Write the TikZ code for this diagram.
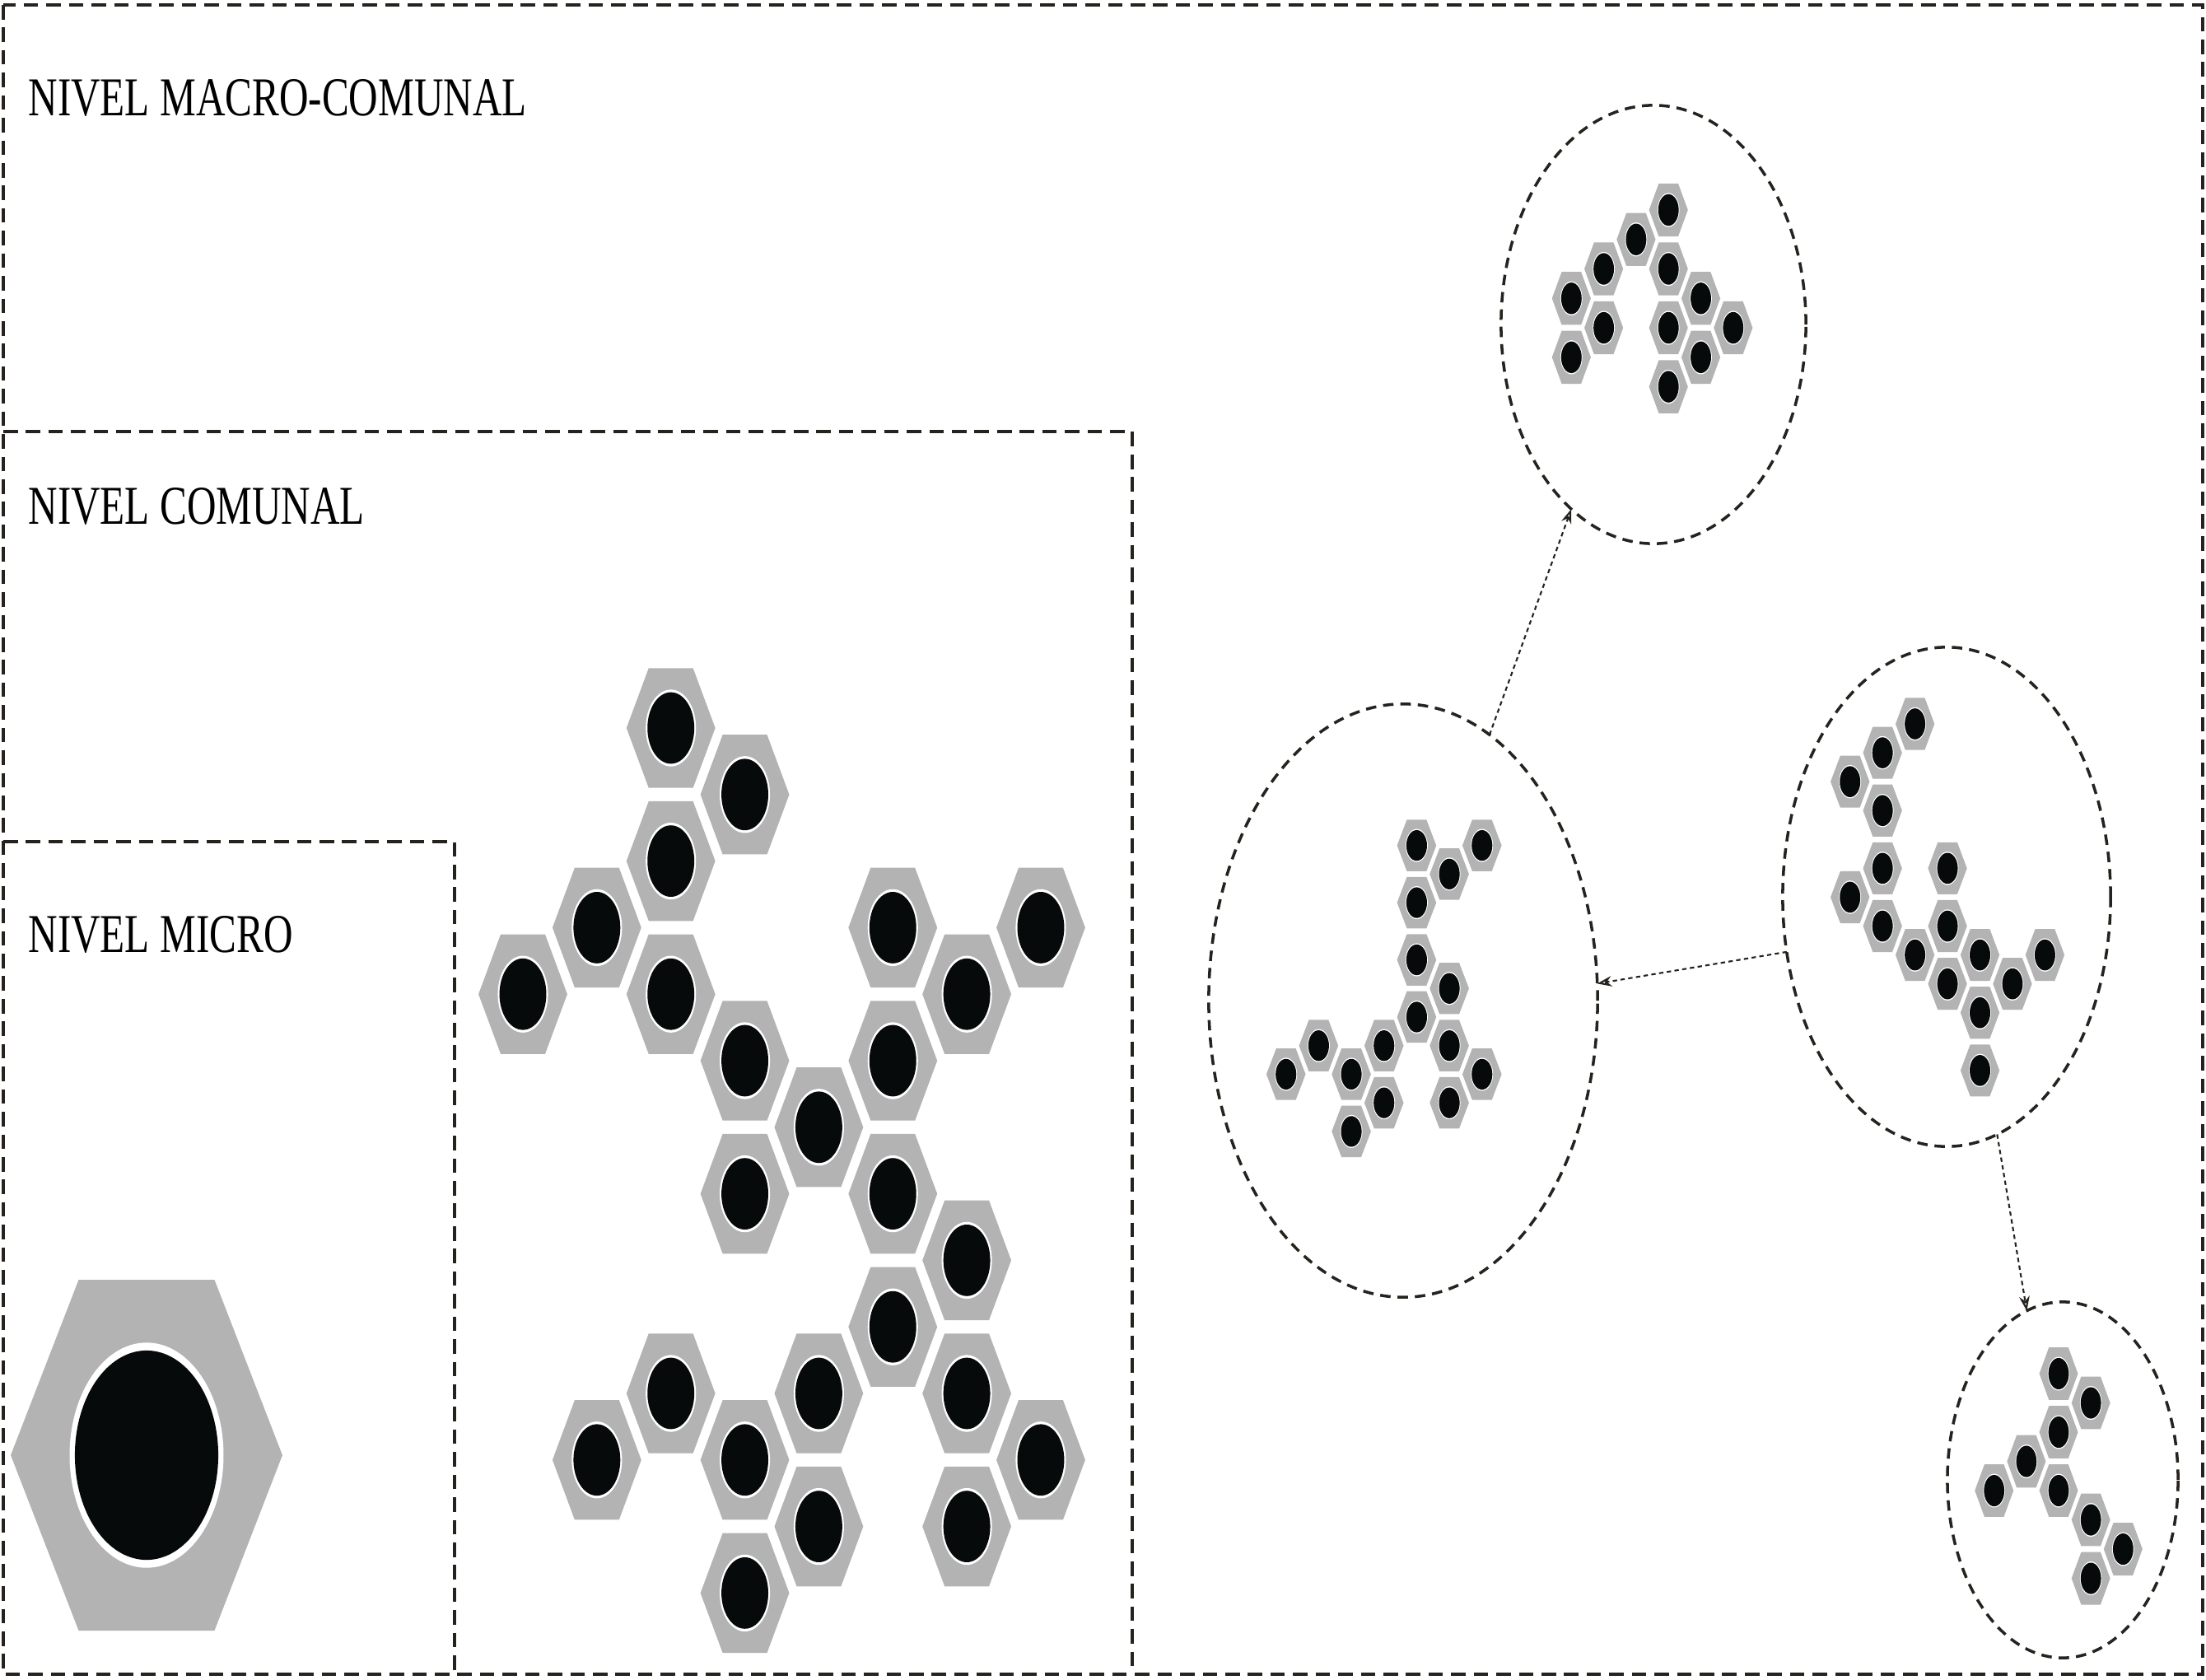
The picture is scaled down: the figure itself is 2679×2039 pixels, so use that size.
\documentclass[tikz,border=0pt]{standalone}
\usepackage{fontspec}
\setmainfont{Liberation Serif}
\usetikzlibrary{shapes.geometric,arrows.meta}
\definecolor{hexgray}{RGB}{179,179,179}
\definecolor{dotblack}{RGB}{6,10,10}
\definecolor{inkline}{RGB}{38,34,30}
\newcommand\hexcell[2]{%
  \begin{scope}[shift={(1.5*#1,0.866*#2)}]
    \fill[hexgray] (0.9,0) -- (0.45,0.779) -- (-0.45,0.779) -- (-0.9,0)
      -- (-0.45,-0.779) -- (0.45,-0.779) -- cycle;
    \fill[white] (0,0) ellipse [x radius=0.51, y radius=0.50];
    \fill[dotblack] (0,0) ellipse [x radius=0.475, y radius=0.465];
  \end{scope}}
\begin{document}
\begin{tikzpicture}[x=0.01cm, y=-0.01cm,
  boxline/.style={draw=inkline, line width=1.3pt, dash pattern=on 5pt off 2.8pt},
  ring/.style={draw=inkline, ellipse, inner sep=0pt, outer sep=0pt, line width=1pt, dash pattern=on 3.6pt off 2.4pt},
  conn/.style={draw=inkline, line width=0.6pt, dash pattern=on 1.5pt off 1.2pt, -{Stealth[open, length=5pt, width=3.6pt]}},
  lbl/.style={anchor=base west, inner sep=0pt, font=\fontsize{18.9pt}{21pt}\selectfont, xscale=0.74}]

\fill[white] (0,0) rectangle (2679,2039);
\useasboundingbox (0,0) rectangle (2679,2039);

% level boxes
\draw[boxline] (4,6) rectangle (2675,2033);
\draw[boxline] (4,524) -- (1375,524) -- (1375,2033);
\draw[boxline] (4,1022) -- (552,1022) -- (552,2033);

% labels
\node[lbl] (lmacro) at (34,140) {NIVEL MACRO-COMUNAL};
\node[lbl] (lcom) at (34,636) {NIVEL COMUNAL};
\node[lbl] (lmicro) at (34,1156) {NIVEL MICRO};

% micro level: one large cell
\begin{scope}[shift={(178,1767)}, xscale=183.3, yscale=273.4]
  \hexcell{0}{0}
\end{scope}

% comunal level cluster
\begin{scope}[shift={(635,884)}, xscale=59.9, yscale=93.3]
  \foreach \c/\k in {2/0,3/1,2/2,1/3,0/4,2/4,3/5,4/6,5/3,6/4,7/3,5/5,5/7,3/7,6/8,5/9,2/10,1/11,3/11,4/10,6/10,7/11,4/12,6/12,3/13}
    {\hexcell{\c}{\k}}
\end{scope}

% macro-comunal circles
\node[ring, minimum width=3.70cm, minimum height=5.32cm] (A) at (2008,394) {};
\node[ring, minimum width=4.72cm, minimum height=7.20cm] (B) at (1704,1215) {};
\node[ring, minimum width=3.98cm, minimum height=6.06cm] (C) at (2364,1089) {};
\node[ring, minimum width=2.80cm, minimum height=4.32cm] (D) at (2505,1797) {};

% cluster A
\begin{scope}[shift={(1908.3,255)}, xscale=26.2, yscale=41.3]
  \foreach \c/\k in {3/0,2/1,1/2,3/2,0/3,4/3,1/4,3/4,5/4,0/5,4/5,3/6}
    {\hexcell{\c}{\k}}
\end{scope}

% cluster B
\begin{scope}[shift={(1561.7,1026.6)}, xscale=26.45, yscale=40.1]
  \foreach \c/\k in {4/0,5/1,6/0,4/2,4/4,5/5,4/6,1/7,3/7,5/7,0/8,2/8,6/8,3/9,5/9,2/10}
    {\hexcell{\c}{\k}}
\end{scope}

% cluster C
\begin{scope}[shift={(2246.7,879)}, xscale=26.3, yscale=40.5]
  \foreach \c/\k in {2/0,1/1,0/2,1/3,1/5,3/5,0/6,1/7,3/7,2/8,4/8,6/8,3/9,5/9,4/10,4/12}
    {\hexcell{\c}{\k}}
\end{scope}

% cluster D
\begin{scope}[shift={(2421.7,1668)}, xscale=26.1, yscale=41.0]
  \foreach \c/\k in {2/0,3/1,2/2,1/3,0/4,2/4,3/5,4/6,3/7}
    {\hexcell{\c}{\k}}
\end{scope}

% connectors
\draw[conn] (B.72) -- (A.246);
\draw[conn] (C.199) -- (B.5);
\draw[conn] (C.282) -- (D.102);

\end{tikzpicture}
\end{document}
